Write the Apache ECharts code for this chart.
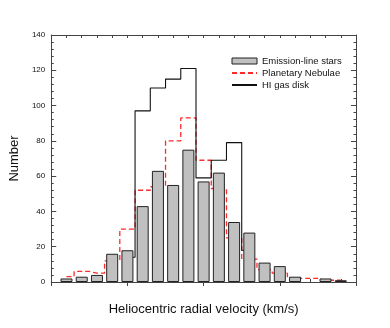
<!DOCTYPE html>
<html>
<head>
<meta charset="utf-8">
<script src="https://cdn.jsdelivr.net/npm/echarts@6/dist/echarts.min.js"></script>
<style>html,body{margin:0;padding:0;background:#fff}#c{width:390px;height:328px}</style>
</head>
<body>
<div id="c"></div>
<script>
const binCenters = [190,200,210,220,230,240,250,260,270,280,290,300,310,320,330,340,350,360,370];
const emissionStars = [2,3,4,16,18,43,63,55,75,57,62,34,28,11,9,3,null,2,1];
const planetaryNebulae = [3,6,5,12,30,52,54,80,93,69,53,25,13,7,5,2,2,1,1];
const hiCenters = [230,240,250,260,270,280,290,300,310];
const hiGasDisk = [14,97,110,115,121,59,69,79,18];
const xTicks = [200,250,300,350];
const yTicks = [0,20,40,60,80,100,120,140];

const font = '"Liberation Sans", Arial, sans-serif';
const axisColor = '#444';

const chart = echarts.init(document.getElementById('c'), null, {renderer:'canvas'});
const pair = (xs, ys) => xs.map((x,i)=>[x, ys[i]]);

chart.setOption({
  animation:false,
  backgroundColor:'#fff',
  textStyle:{fontFamily:font},
  grid:{left:45,right:34,top:35,bottom:46},
  legend:{
    orient:'vertical', left:231, top:55.5, padding:0,
    itemWidth:25, itemHeight:6, itemGap:1,
    data:[
      {name:'Emission-line stars', icon:'rect', itemStyle:{borderWidth:1}},
      {name:'Planetary Nebulae', itemStyle:{opacity:0}},
      {name:'HI gas disk', itemStyle:{opacity:0}}
    ],
    textStyle:{fontSize:9.5, color:'#111', fontFamily:font, lineHeight:11}
  },
  xAxis:[
    {type:'value', position:'bottom', min:180, max:380, interval:50,
     axisLine:{lineStyle:{color:axisColor,width:1}},
     axisTick:{inside:false,length:4,lineStyle:{color:axisColor}},
     axisLabel:{fontSize:8.5,color:'#111',margin:9,
       formatter:v=>xTicks.includes(v)?String(v):''},
     splitLine:{show:false},
     name:'Heliocentric radial velocity (km/s)', nameLocation:'middle', nameGap:21,
     nameTextStyle:{fontSize:13,color:'#111',fontFamily:font}},
    {type:'value', position:'bottom', min:180, max:380, interval:10,
     axisLine:{show:false}, axisLabel:{show:false}, splitLine:{show:false},
     axisTick:{show:true,inside:true,length:3,lineStyle:{color:axisColor}}},
    {type:'value', position:'top', min:180, max:380, interval:10,
     axisLine:{show:true,lineStyle:{color:axisColor,width:1}}, axisLabel:{show:false}, splitLine:{show:false},
     axisTick:{show:true,inside:true,length:3,lineStyle:{color:axisColor}}}
  ],
  yAxis:[
    {type:'value', position:'left', min:0, max:140, interval:20,
     axisLine:{show:true,lineStyle:{color:axisColor,width:1}},
     axisTick:{show:true,inside:true,length:5,lineStyle:{color:axisColor}},
     minorTick:{show:true,splitNumber:5,length:2.5,lineStyle:{color:axisColor}},
     axisLabel:{fontSize:8,color:'#111',margin:6,
       formatter:v=>yTicks.includes(v)?String(v):''},
     splitLine:{show:false},
     name:'Number', nameLocation:'middle', nameGap:30,
     nameTextStyle:{fontSize:13,color:'#111',fontFamily:font}},
    {type:'value', position:'right', min:0, max:140, interval:20,
     axisLine:{show:true,lineStyle:{color:axisColor,width:1}},
     axisTick:{show:true,inside:true,length:5,lineStyle:{color:axisColor}},
     minorTick:{show:true,splitNumber:5,length:2.5,lineStyle:{color:axisColor}},
     axisLabel:{show:false}, splitLine:{show:false}}
  ],
  series:[
    {name:'Planetary Nebulae', type:'line', step:'middle', xAxisIndex:0, yAxisIndex:0,
     data:pair(binCenters, planetaryNebulae), symbol:'none', showSymbol:false, z:2,
     lineStyle:{color:'#ff2a2a',width:1.3,type:[5,3]}, itemStyle:{color:'#ff2a2a'}},
    {name:'HI gas disk', type:'line', step:'middle', xAxisIndex:0, yAxisIndex:0,
     data:pair(hiCenters, hiGasDisk), symbol:'none', showSymbol:false, z:2,
     lineStyle:{color:'#111',width:1.1}, itemStyle:{color:'#111'}},
    {name:'Emission-line stars', type:'bar', xAxisIndex:0, yAxisIndex:0,
     data:pair(binCenters, emissionStars), barWidth:12, z:3,
     itemStyle:{color:'#c0c0c0',borderColor:'#222',borderWidth:1}}
  ]
});
</script>
</body>
</html>
